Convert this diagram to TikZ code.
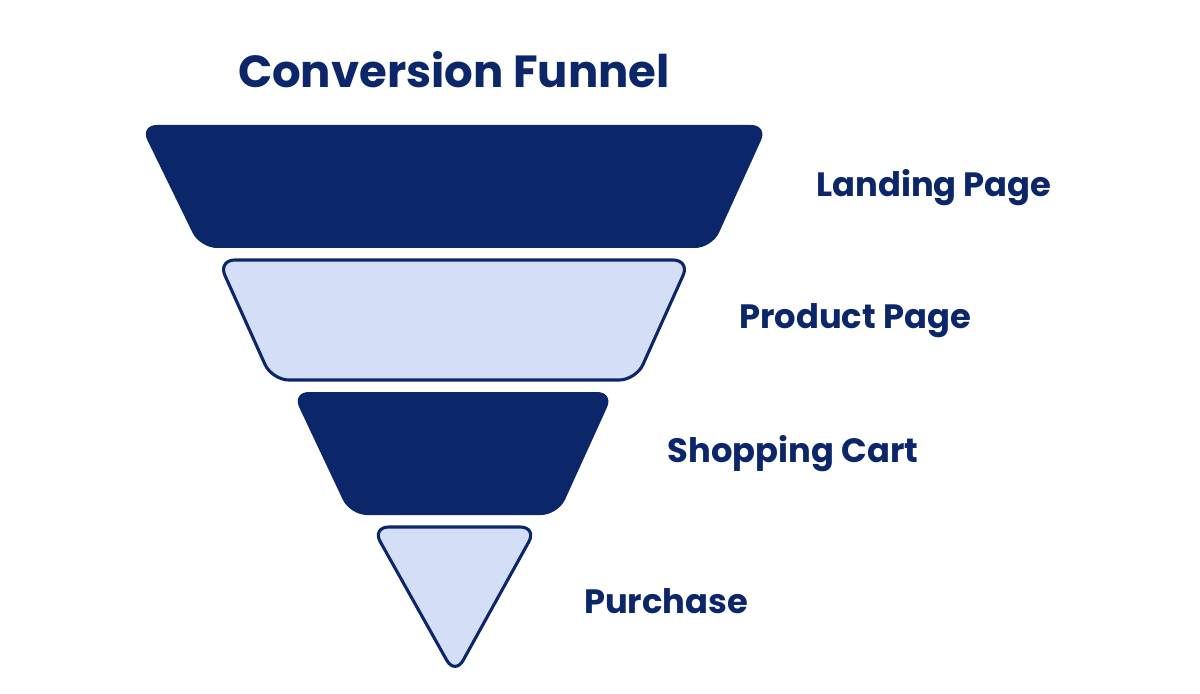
\documentclass[tikz,border=0pt]{standalone}
\usepackage{fontspec}
\setmainfont{Poppins}[BoldFont={* Bold}]
\usepackage{tikz}
\definecolor{navy}{HTML}{0B2669}
\definecolor{pale}{HTML}{D4DEF7}
\tikzset{
  darkstage/.style={fill=navy, rounded corners=12pt},
  lightstage/.style={fill=pale, draw=navy, line width=2.2pt, rounded corners=12pt},
  stagelabel/.style={text=navy, font=\bfseries\fontsize{24}{28}\selectfont}
}

\begin{document}
\begin{tikzpicture}[x=0.025cm, y=-0.025cm]
        \useasboundingbox (0, 0) rectangle (1200, 694);

        \node[text=navy, font=\bfseries\fontsize{32}{38}\selectfont] (title) at (454, 70) {Conversion Funnel};

        \fill[darkstage] (140, 125) -- (768, 125) -- (712, 248) -- (200, 248) -- cycle;
        \draw[lightstage] (218, 260) -- (690, 260) -- (636, 380) -- (272, 380) -- cycle;
        \fill[darkstage] (292, 392) -- (614, 392) -- (558, 515) -- (350, 515) -- cycle;
        \draw[lightstage] (372, 527) -- (537, 527) -- (455, 675) -- cycle;

        \node[stagelabel] (landing) at (934, 188) {Landing Page};
        \node[stagelabel] (product) at (855, 321) {Product Page};
        \node[stagelabel] (cart) at (793, 454) {Shopping Cart};
        \node[stagelabel] (purchase) at (666, 601) {Purchase};
    \end{tikzpicture}
\end{document}
